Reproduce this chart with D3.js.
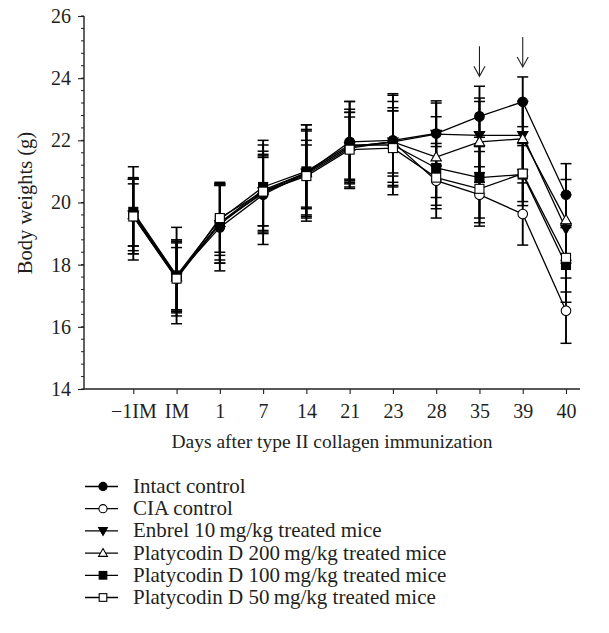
<!DOCTYPE html>
<html><head><meta charset="utf-8">
<script src="https://cdn.jsdelivr.net/npm/d3@7"></script>
<style>
body{margin:0;background:#fff;}
text{font-family:"Liberation Serif","DejaVu Serif",serif;fill:#231f20;}
</style></head>
<body>
<svg id="chart" width="609" height="633"></svg>
<script>
const categories = ["\u22121IM","IM","1","7","14","21","23","28","35","39","40"];
const yTicks = [14,16,18,20,22,24,26];
const seriesNames = ["Intact control","CIA control","Enbrel 10\u2009mg/kg treated mice","Platycodin D 200\u2009mg/kg treated mice","Platycodin D 100\u2009mg/kg treated mice","Platycodin D 50\u2009mg/kg treated mice"];
const intactMean = [19.65,17.65,19.2,20.25,20.95,21.95,22.0,22.22,22.77,23.24,20.25];
const intactSD   = [1.5,1.55,1.4,1.6,1.55,1.3,1.5,1.05,0.97,0.8,1.0];
const ciaMean    = [19.55,17.55,19.35,20.3,20.9,21.75,21.95,20.7,20.25,19.63,16.52];
const ciaSD      = [1.2,1.2,1.3,1.2,1.1,1.0,1.1,1.2,0.9,1.0,1.05];
const enbrelMean = [19.6,17.6,19.3,20.35,20.95,21.8,21.95,22.2,22.16,22.16,19.15];
const enbrelSD   = [1.15,1.1,1.25,1.3,1.4,1.2,1.3,1.0,1.2,1.1,1.1];
const p200Mean   = [19.6,17.6,19.35,20.4,20.95,21.8,21.95,21.46,21.95,22.05,19.44];
const p200SD     = [1.0,1.15,1.2,1.15,1.35,1.1,1.0,1.3,1.3,1.2,1.3];
const p100Mean   = [19.7,17.65,19.45,20.5,21.0,21.85,21.85,21.11,20.8,20.9,17.99];
const p100SD     = [1.1,1.15,1.15,1.5,1.5,1.4,1.6,1.2,1.3,1.0,1.2];
const p50Mean    = [19.55,17.55,19.5,20.35,20.85,21.7,21.75,20.8,20.44,20.93,18.22];
const p50SD      = [1.2,1.0,1.1,1.1,1.0,1.2,1.2,1.0,1.2,0.9,1.1];
const arrowDays  = ["35","39"];

const series = [
  {name:seriesNames[0], mean:intactMean, sd:intactSD, shape:"circle", fill:"#000"},
  {name:seriesNames[1], mean:ciaMean, sd:ciaSD, shape:"circle", fill:"#fff"},
  {name:seriesNames[2], mean:enbrelMean, sd:enbrelSD, shape:"tridown", fill:"#000"},
  {name:seriesNames[3], mean:p200Mean, sd:p200SD, shape:"triup", fill:"#fff"},
  {name:seriesNames[4], mean:p100Mean, sd:p100SD, shape:"square", fill:"#000"},
  {name:seriesNames[5], mean:p50Mean, sd:p50SD, shape:"square", fill:"#fff"}
];
const drawOrder = [1,2,3,4,0,5];

const svg = d3.select("#chart");
const mLeft = 84, mRight = 580, mTop = 16, mBottom = 389;
const x = d3.scalePoint().domain(categories).range([133.3, 566]);
const y = d3.scaleLinear().domain([14,26]).range([mBottom, mTop]);

// axes
const yAxis = d3.axisLeft(y).tickValues(yTicks).tickSize(6).tickPadding(7).tickFormat(d3.format("d"));
const gy = svg.append("g").attr("transform",`translate(${mLeft},0)`).call(yAxis);
gy.select(".domain").remove();
gy.selectAll("text").style("font-size","20px");
const minor = d3.range(14,26.001,0.4).map(v=>+v.toFixed(1));
svg.append("g").selectAll("line").data(minor).join("line")
  .attr("x1",mLeft-3).attr("x2",mLeft).attr("y1",d=>y(d)).attr("y2",d=>y(d))
  .attr("stroke","#231f20").attr("stroke-width",1);
svg.append("line").attr("x1",mLeft).attr("x2",mLeft).attr("y1",mTop).attr("y2",mBottom+0.5).attr("stroke","#231f20").attr("stroke-width",1.4);

const xAxis = d3.axisBottom(x).tickSize(5).tickPadding(10);
const gx = svg.append("g").attr("transform",`translate(0,${mBottom})`).call(xAxis);
gx.select(".domain").remove();
gx.selectAll("text").style("font-size","20px");
svg.append("line").attr("x1",mLeft).attr("x2",mRight).attr("y1",mBottom).attr("y2",mBottom).attr("stroke","#231f20").attr("stroke-width",1.4);
svg.selectAll(".tick line").attr("stroke","#231f20").attr("stroke-width",1.1);

svg.append("text").attr("x",332).attr("y",448).attr("text-anchor","middle").style("font-size","19.5px").text("Days after type II collagen immunization");
svg.append("text").attr("transform","translate(32,203) rotate(-90)").attr("text-anchor","middle").style("font-size","20.5px").text("Body weights (g)");

// error bars
const plot = svg.append("g");
drawOrder.forEach(si=>{
  const s = series[si];
  const g = plot.append("g");
  categories.forEach((c,i)=>{
    const cx = x(c), hi = y(s.mean[i]+s.sd[i]), lo = y(s.mean[i]-s.sd[i]);
    g.append("line").attr("x1",cx).attr("x2",cx).attr("y1",hi).attr("y2",lo).attr("stroke","#000").attr("stroke-width",1.9);
    [hi,lo].forEach(yy=>g.append("line").attr("x1",cx-5.5).attr("x2",cx+5.5).attr("y1",yy).attr("y2",yy).attr("stroke","#000").attr("stroke-width",1.5));
  });
});
// lines
const line = d3.line().x((d,i)=>x(categories[i])).y(d=>y(d));
drawOrder.forEach(si=>{
  plot.append("path").attr("d",line(series[si].mean)).attr("fill","none").attr("stroke","#000").attr("stroke-width",1.3);
});
function marker(g, shape, fill, cx, cy, k){
  k = k || 1;
  if(shape==="circle") g.append("circle").attr("cx",cx).attr("cy",cy).attr("r",4.8*k).attr("fill",fill).attr("stroke","#000").attr("stroke-width",1.1);
  else if(shape==="square") g.append("rect").attr("x",cx-4.5*k).attr("y",cy-4.5*k).attr("width",9*k).attr("height",9*k).attr("fill",fill).attr("stroke","#000").attr("stroke-width",1.1);
  else if(shape==="triup") g.append("path").attr("d",`M${cx},${cy-5.4*k}L${cx+5.2*k},${cy+3.8*k}L${cx-5.2*k},${cy+3.8*k}Z`).attr("fill",fill).attr("stroke","#000").attr("stroke-width",1.1);
  else g.append("path").attr("d",`M${cx},${cy+5.4*k}L${cx+5.2*k},${cy-3.8*k}L${cx-5.2*k},${cy-3.8*k}Z`).attr("fill",fill).attr("stroke","#000").attr("stroke-width",1.1);
}
drawOrder.forEach(si=>{
  const s = series[si];
  const g = plot.append("g");
  categories.forEach((c,i)=>marker(g, s.shape, s.fill, x(c), y(s.mean[i])));
});

// arrows above intact error bars
arrowDays.forEach(dd=>{
  const i = categories.indexOf(dd);
  const cx = x(dd);
  const tip = y(intactMean[i]+intactSD[i]) - 10;
  const g = svg.append("g").attr("stroke","#231f20").attr("fill","none").attr("stroke-width",1.1);
  g.append("line").attr("x1",cx).attr("x2",cx).attr("y1",tip-30).attr("y2",tip);
  g.append("path").attr("d",`M${cx-5.5},${tip-10}L${cx},${tip}L${cx+5.5},${tip-10}`);
});

// legend
const lg = svg.append("g");
series.forEach((s,k)=>{
  const yy = 486.5 + k*22.2;
  lg.append("line").attr("x1",85).attr("x2",118).attr("y1",yy).attr("y2",yy).attr("stroke","#000").attr("stroke-width",1.3);
  marker(lg, s.shape, s.fill, 103, yy, 0.85);
  lg.append("text").attr("x",133).attr("y",yy+6.5).style("font-size","21px").text(s.name);
});
</script>
</body></html>
